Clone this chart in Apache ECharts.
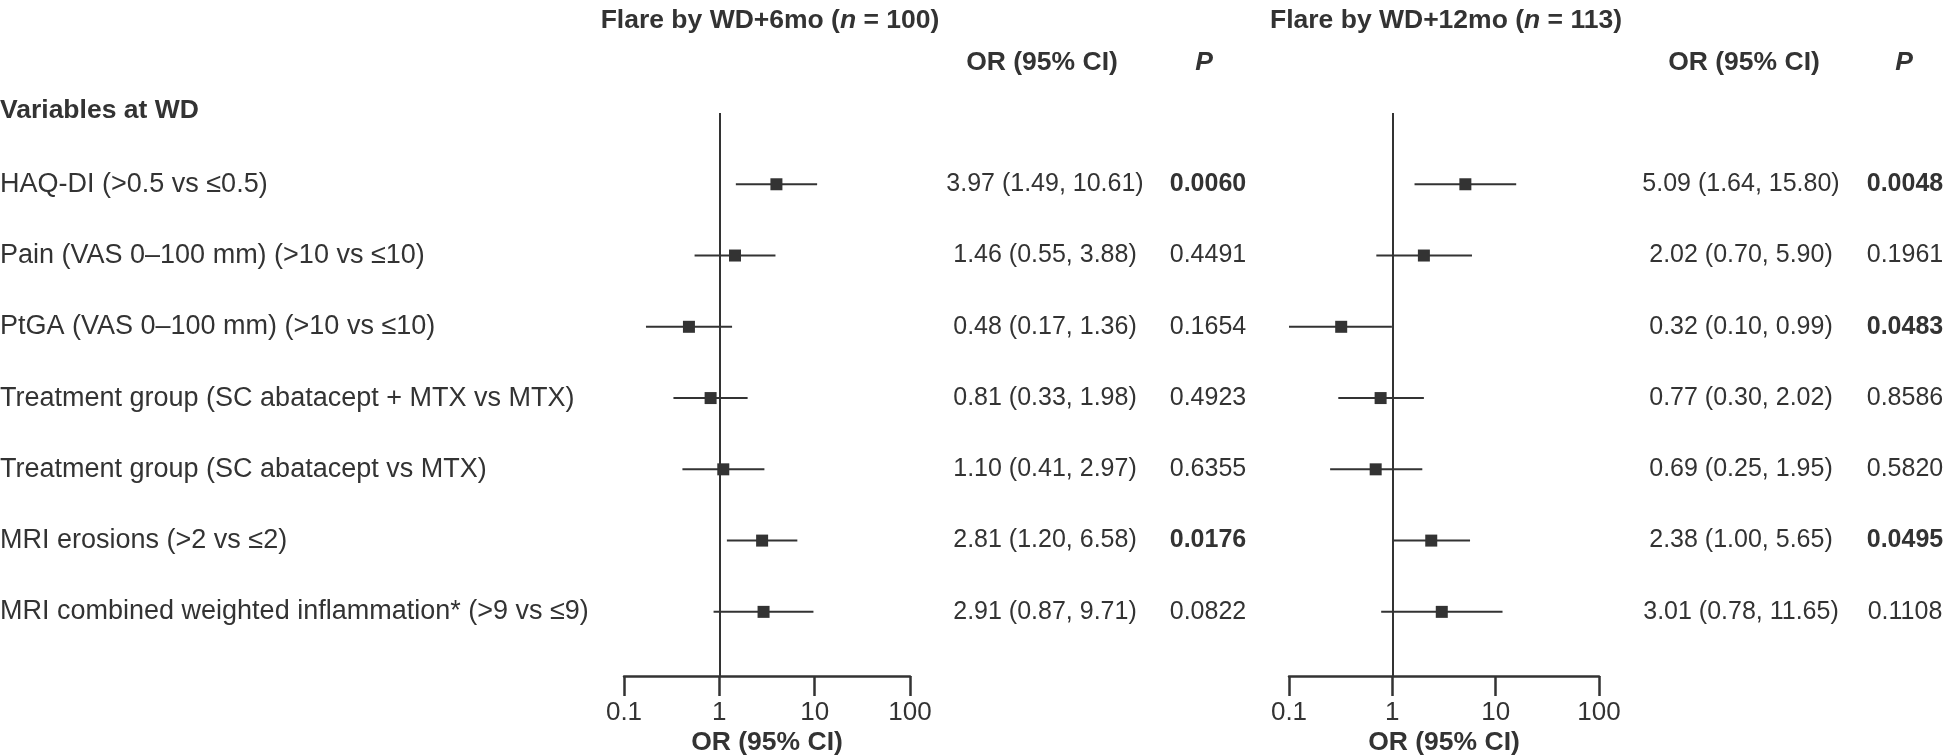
<!DOCTYPE html>
<html><head><meta charset="utf-8">
<script src="https://cdn.jsdelivr.net/npm/echarts/dist/echarts.min.js"></script>
<style>html,body{margin:0;padding:0;background:#fff}#c{width:1952px;height:756px}</style>
</head><body><div id="c"></div>
<script>
// ---------------- data ----------------
const labels = [
  'HAQ-DI (>0.5 vs \u22640.5)',
  'Pain (VAS 0\u2013100 mm) (>10 vs \u226410)',
  'PtGA (VAS 0\u2013100 mm) (>10 vs \u226410)',
  'Treatment group (SC abatacept + MTX vs MTX)',
  'Treatment group (SC abatacept vs MTX)',
  'MRI erosions (>2 vs \u22642)',
  'MRI combined weighted inflammation* (>9 vs \u22649)'
];
const or6  = [3.97, 1.46, 0.48, 0.81, 1.10, 2.81, 2.91];
const lo6  = [1.49, 0.55, 0.17, 0.33, 0.41, 1.20, 0.87];
const hi6  = [10.61, 3.88, 1.36, 1.98, 2.97, 6.58, 9.71];
const p6   = ['0.0060', '0.4491', '0.1654', '0.4923', '0.6355', '0.0176', '0.0822'];
const or12 = [5.09, 2.02, 0.32, 0.77, 0.69, 2.38, 3.01];
const lo12 = [1.64, 0.70, 0.10, 0.30, 0.25, 1.00, 0.78];
const hi12 = [15.80, 5.90, 0.99, 2.02, 1.95, 5.65, 11.65];
const p12  = ['0.0048', '0.1961', '0.0483', '0.8586', '0.5820', '0.0495', '0.1108'];
const tickValues = [0.1, 1, 10, 100];
const panelTitles = [['Flare by WD+6mo (', 'n', ' = 100)'], ['Flare by WD+12mo (', 'n', ' = 113)']];

// ---------------- style ----------------
const FONT = '"Liberation Sans", Arial, Helvetica, sans-serif';
const C = '#333333';
const FS = 25;      // table numbers
const FL = 27;      // row labels
const FB = 26.5;    // bold headings

const chart = echarts.init(document.getElementById('c'));

function xAxisDef(gi) {
  return {
    type: 'log', logBase: 10, gridIndex: gi, min: tickValues[0], max: tickValues[tickValues.length - 1],
    axisLine: { show: true, onZero: false, lineStyle: { color: C, width: 2.5 } },
    axisTick: { show: true, length: 20, lineStyle: { color: C, width: 2.5 } },
    axisLabel: { margin: 24, fontSize: 26, fontFamily: FONT, color: C,
      formatter: v => String(+(+v).toPrecision(2)) },
    splitLine: { show: false }, minorTick: { show: false },
    name: 'OR (95% CI)', nameLocation: 'middle', nameGap: 53, nameMoveOverlap: false,
    nameTextStyle: { fontSize: FB, fontWeight: 'bold', fontFamily: FONT, color: C }
  };
}
function yAxisDef(gi) {
  return { type: 'value', gridIndex: gi, inverse: true, min: -1, max: 6.9, show: false };
}

function ciSeries(gi, orA, loA, hiA) {
  return {
    type: 'custom', xAxisIndex: gi, yAxisIndex: gi, silent: true, clip: false,
    data: orA.map((v, i) => [i, loA[i], hiA[i], v]),
    encode: { y: 0, x: [1, 2, 3] },
    renderItem: (params, api) => {
      const i = api.value(0);
      const a = api.coord([api.value(1), i]);
      const b = api.coord([api.value(2), i]);
      const c = api.coord([api.value(3), i]);
      const s = 12;
      return { type: 'group', children: [
        { type: 'line', shape: { x1: a[0], y1: a[1], x2: b[0], y2: b[1] }, style: { stroke: C, lineWidth: 2 } },
        { type: 'rect', shape: { x: c[0] - s / 2, y: c[1] - s / 2, width: s, height: s }, style: { fill: C } }
      ]};
    },
    markLine: { silent: true, symbol: 'none', label: { show: false },
      lineStyle: { color: C, width: 2, type: 'solid' }, data: [{ xAxis: 1 }] }
  };
}

function textSeries(gi, orA, loA, hiA, pA, orX, pX, withLabels) {
  return {
    type: 'custom', xAxisIndex: gi, yAxisIndex: gi, silent: true, clip: false,
    data: orA.map((v, i) => [1, i]),
    encode: { x: 0, y: 1 },
    renderItem: (params, api) => {
      const i = api.value(1);
      const y = api.coord([1, i])[1];
      const txt = orA[i].toFixed(2) + ' (' + loA[i].toFixed(2) + ', ' + hiA[i].toFixed(2) + ')';
      const bold = parseFloat(pA[i]) < 0.05;
      const ch = [
        { type: 'text', style: { x: orX, y, text: txt, fill: C, fontSize: FS, fontFamily: FONT, align: 'center', verticalAlign: 'middle' } },
        { type: 'text', style: { x: pX, y, text: pA[i], fill: C, fontSize: FS, fontFamily: FONT, fontWeight: bold ? 'bold' : 'normal', align: 'center', verticalAlign: 'middle' } }
      ];
      if (withLabels) ch.push({ type: 'text', style: { x: 0, y, text: labels[i], fill: C, fontSize: FL, fontFamily: FONT, align: 'left', verticalAlign: 'middle' } });
      return { type: 'group', children: ch };
    }
  };
}

function titleText(x, y, parts) {
  return { type: 'text', x, y, silent: true, style: {
    text: '{b|' + parts[0] + '}{bi|' + parts[1] + '}{b|' + parts[2] + '}',
    align: 'center', verticalAlign: 'middle',
    rich: {
      b: { fontSize: FB, fontWeight: 'bold', fontFamily: FONT, fill: C, color: C },
      bi: { fontSize: FB, fontWeight: 'bold', fontStyle: 'italic', fontFamily: FONT, fill: C, color: C }
    }
  }};
}
function boldText(x, y, text, align, italic) {
  return { type: 'text', x, y, silent: true, style: {
    text, fill: C, fontSize: FB, fontWeight: 'bold', fontStyle: italic ? 'italic' : 'normal',
    fontFamily: FONT, align, verticalAlign: 'middle' } };
}

chart.setOption({
  animation: false,
  backgroundColor: '#ffffff',
  grid: [
    { left: 624, width: 286, top: 113, height: 563, containLabel: false, outerBoundsMode: 'none' },
    { left: 1289, width: 310, top: 113, height: 563, containLabel: false, outerBoundsMode: 'none' }
  ],
  xAxis: [xAxisDef(0), xAxisDef(1)],
  yAxis: [yAxisDef(0), yAxisDef(1)],
  series: [
    ciSeries(0, or6, lo6, hi6),
    ciSeries(1, or12, lo12, hi12),
    textSeries(0, or6, lo6, hi6, p6, 1045, 1208, true),
    textSeries(1, or12, lo12, hi12, p12, 1741, 1905, false)
  ],
  graphic: [
    titleText(770, 21, panelTitles[0]),
    titleText(1446, 21, panelTitles[1]),
    boldText(1042, 63, 'OR (95% CI)', 'center', false),
    boldText(1204, 63, 'P', 'center', true),
    boldText(1744, 63, 'OR (95% CI)', 'center', false),
    boldText(1904, 63, 'P', 'center', true),
    boldText(0, 111, 'Variables at WD', 'left', false)
  ]
});
</script>
</body></html>
